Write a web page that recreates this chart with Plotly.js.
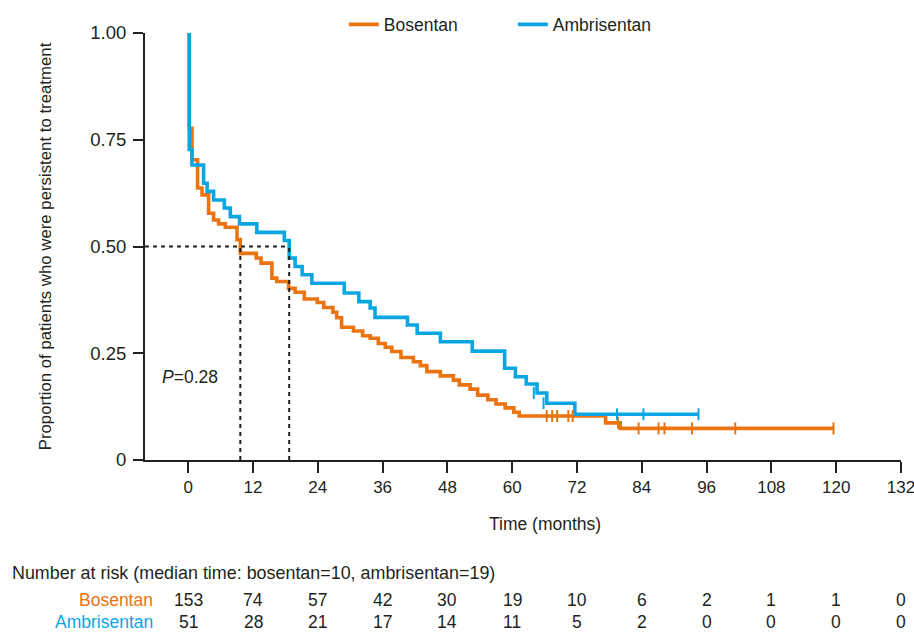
<!DOCTYPE html>
<html>
<head>
<meta charset="utf-8">
<script src="https://cdn.plot.ly/plotly-3.0.1.min.js"></script>
<style>html,body{margin:0;padding:0;background:#fff;}#chart{width:914px;height:632px;}</style>
</head>
<body>
<div id="chart"></div>
<script>
// ---- Data ----
var seriesNames = ["Bosentan", "Ambrisentan"];

var bosTimes = [0, 0.2, 0.7, 1.74, 2.56, 3.78, 4.7, 5.63, 6.87, 9.04, 9.65, 12.6, 13.5, 15.5, 16.4, 18.6, 19.8, 21.5, 23.9, 25.1, 26.8, 27.5, 28.4, 30.6, 32.3, 33.7, 35.2, 36.5, 37.7, 39.4, 41.7, 43.0, 44.2, 46.7, 49.1, 50.2, 52.2, 53.6, 55.5, 57.0, 58.7, 60.3, 61.3, 77.3, 80.0, 119.5];
var bosSurv  = [1.0, 0.777, 0.703, 0.637, 0.621, 0.578, 0.562, 0.553, 0.545, 0.516, 0.484, 0.473, 0.461, 0.426, 0.418, 0.402, 0.393, 0.377, 0.369, 0.357, 0.346, 0.333, 0.311, 0.302, 0.291, 0.285, 0.273, 0.264, 0.254, 0.240, 0.230, 0.221, 0.207, 0.197, 0.187, 0.176, 0.166, 0.152, 0.141, 0.131, 0.122, 0.112, 0.103, 0.087, 0.074, 0.074];

var ambTimes = [0, 0.2, 0.7, 2.85, 3.5, 4.7, 6.7, 7.8, 9.5, 12.7, 17.8, 18.7, 19.8, 21.1, 22.9, 28.9, 31.6, 33.7, 34.6, 40.6, 42.4, 46.7, 52.6, 58.6, 60.6, 62.6, 64.6, 66.4, 71.6, 94.5];
var ambSurv  = [1.0, 0.727, 0.691, 0.648, 0.629, 0.609, 0.590, 0.570, 0.553, 0.533, 0.514, 0.473, 0.453, 0.434, 0.414, 0.391, 0.371, 0.356, 0.334, 0.316, 0.297, 0.277, 0.255, 0.215, 0.195, 0.178, 0.157, 0.133, 0.107, 0.107];

var bosCensorT = [66.4, 67.4, 68.3, 70.4, 71.2, 79.6, 83.4, 87.1, 88.2, 93.3, 101.3, 119.5];
var bosCensorS = [0.103, 0.103, 0.103, 0.103, 0.103, 0.087, 0.074, 0.074, 0.074, 0.074, 0.074, 0.074];
var ambCensorT = [64.0, 65.8, 79.4, 84.3, 94.5];
var ambCensorS = [0.157, 0.133, 0.107, 0.107, 0.107];

var medianTimes = [9.65, 18.7];   // bosentan, ambrisentan
var medianLevel = 0.5;

var xTickVals = [0, 12, 24, 36, 48, 60, 72, 84, 96, 108, 120, 132];
var yTickVals = [0, 0.25, 0.5, 0.75, 1.0];
var yTickText = ["0", "0.25", "0.50", "0.75", "1.00"];

var riskTimes = xTickVals;
var riskBosentan    = [153, 74, 57, 42, 30, 19, 10, 6, 2, 1, 1, 0];
var riskAmbrisentan = [51, 28, 21, 17, 14, 11, 5, 2, 0, 0, 0, 0];

var pValueText = "<i>P</i>=0.28";
var riskHeader = "Number at risk (median time: bosentan=10, ambrisentan=19)";
var xTitle = "Time (months)";
var yTitle = "Proportion of patients who were persistent to treatment";

// ---- Styling ----
var ORANGE = "#EA7410";
var BLUE = "#0AA6E2";
var TXT = "#231F20";
var FONT = "Liberation Sans, Arial, sans-serif";
var FS = 17.5;

var traces = [
  {x: bosTimes, y: bosSurv, name: seriesNames[0], type: "scatter", mode: "lines",
   line: {shape: "hv", color: ORANGE, width: 3.6}, cliponaxis: false},
  {x: ambTimes, y: ambSurv, name: seriesNames[1], type: "scatter", mode: "lines",
   line: {shape: "hv", color: BLUE, width: 3.6}, cliponaxis: false},
  {x: bosCensorT, y: bosCensorS, type: "scatter", mode: "markers", showlegend: false, hoverinfo: "skip",
   marker: {symbol: "line-ns-open", size: 8.5, color: ORANGE, line: {color: ORANGE, width: 2}}},
  {x: ambCensorT, y: ambCensorS, type: "scatter", mode: "markers", showlegend: false, hoverinfo: "skip",
   marker: {symbol: "line-ns-open", size: 8.5, color: BLUE, line: {color: BLUE, width: 2}}}
];

// median dashed guides: horizontal from the y-axis to the larger median, verticals down to 0
var dash = {color: TXT, width: 2, dash: "4px,4px"};
var shapes = [
  {type: "line", xref: "x", yref: "y", x0: -8, x1: medianTimes[1], y0: medianLevel, y1: medianLevel, line: dash},
  {type: "line", xref: "x", yref: "y", x0: medianTimes[0], x1: medianTimes[0], y0: 0, y1: medianLevel, line: dash},
  {type: "line", xref: "x", yref: "y", x0: medianTimes[1], x1: medianTimes[1], y0: 0, y1: medianLevel, line: dash}
];

var rowB = -0.328, rowA = -0.38;
var annotations = [];
annotations.push({xref: "x", yref: "y", x: -5.3, y: 0.195, xanchor: "left", yanchor: "middle",
  text: pValueText, showarrow: false, font: {family: FONT, size: FS, color: TXT}});
annotations.push({xref: "x", yref: "paper", x: 66, y: -0.15, xanchor: "center", yanchor: "middle",
  text: xTitle, showarrow: false, font: {family: FONT, size: FS, color: TXT}});
annotations.push({xref: "paper", yref: "paper", x: -0.1786, y: -0.265, xanchor: "left", yanchor: "middle",
  text: riskHeader, showarrow: false, font: {family: FONT, size: 17.9, color: TXT}});
annotations.push({xref: "paper", yref: "paper", x: 0.0132, y: rowB, xanchor: "right", yanchor: "middle",
  text: seriesNames[0], showarrow: false, font: {family: FONT, size: FS, color: ORANGE}});
annotations.push({xref: "paper", yref: "paper", x: 0.0132, y: rowA, xanchor: "right", yanchor: "middle",
  text: seriesNames[1], showarrow: false, font: {family: FONT, size: FS, color: BLUE}});
for (var i = 0; i < riskTimes.length; i++) {
  annotations.push({xref: "x", yref: "paper", x: riskTimes[i], y: rowB, xanchor: "center", yanchor: "middle",
    text: String(riskBosentan[i]), showarrow: false, font: {family: FONT, size: FS, color: TXT}});
  annotations.push({xref: "x", yref: "paper", x: riskTimes[i], y: rowA, xanchor: "center", yanchor: "middle",
    text: String(riskAmbrisentan[i]), showarrow: false, font: {family: FONT, size: FS, color: TXT}});
}

var layout = {
  width: 914, height: 632,
  margin: {l: 145, r: 13, t: 33, b: 172, autoexpand: false},
  paper_bgcolor: "#fff", plot_bgcolor: "#fff",
  font: {family: FONT, size: FS, color: TXT},
  showlegend: true,
  legend: {orientation: "h", x: 0.263, xanchor: "left", y: 1.02, yanchor: "middle",
           font: {family: FONT, size: FS, color: TXT}, itemwidth: 30, entrywidth: 124,
           bgcolor: "rgba(0,0,0,0)"},
  xaxis: {range: [-8, 132], tickvals: xTickVals, ticktext: xTickVals.map(String), ticklabeloverflow: "allow",
          showline: true, linecolor: TXT, linewidth: 2, ticks: "outside", ticklen: 11, tickwidth: 2,
          tickcolor: TXT, showgrid: false, zeroline: false, tickfont: {family: FONT, size: 17, color: TXT}},
  yaxis: {range: [0, 1], tickvals: yTickVals, ticktext: yTickText, ticklabelstandoff: 3,
          showline: true, linecolor: TXT, linewidth: 2, ticks: "outside", ticklen: 10, tickwidth: 2,
          tickcolor: TXT, showgrid: false, zeroline: false, tickfont: {family: FONT, size: 18.5, color: TXT},
          title: {text: yTitle, font: {family: FONT, size: 16.8, color: TXT}, standoff: 34}},
  shapes: shapes,
  annotations: annotations
};

Plotly.newPlot("chart", traces, layout, {displayModeBar: false, staticPlot: true});
</script>
</body>
</html>
